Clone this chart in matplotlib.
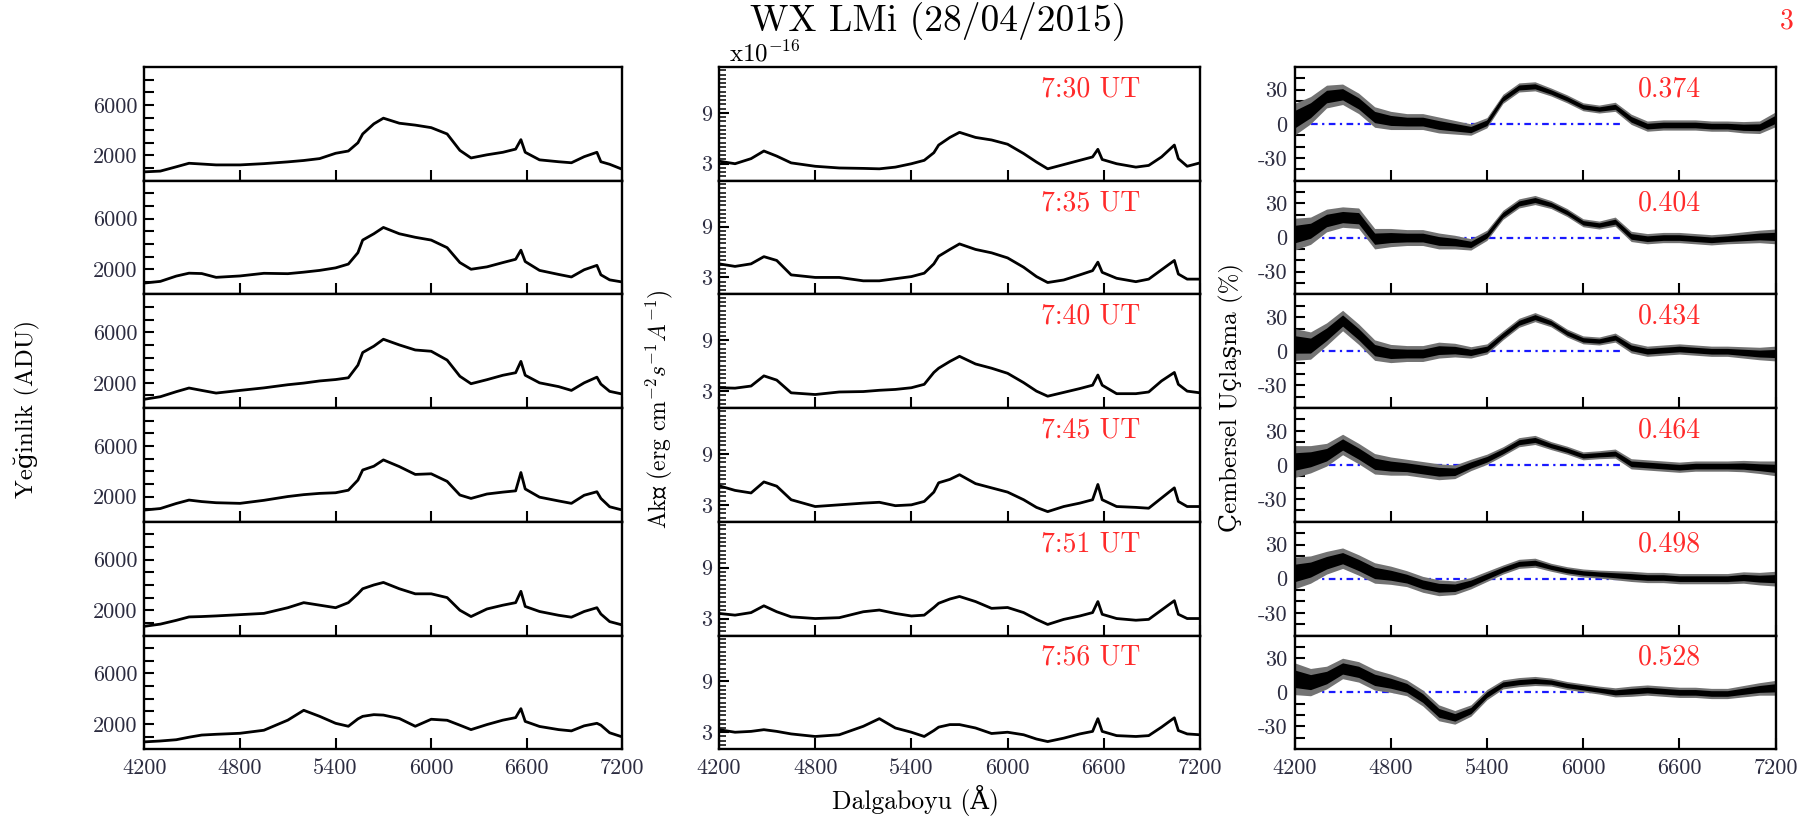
import numpy as np
import matplotlib
matplotlib.use('Agg')
import matplotlib.pyplot as plt
from matplotlib.ticker import FixedLocator, MultipleLocator

plt.rcParams['font.family'] = ['cmr10', 'DejaVu Serif']
plt.rcParams['mathtext.fontset'] = 'cm'
plt.rcParams['axes.unicode_minus'] = False

# ---------------- data ----------------
times = ['7:30 UT', '7:35 UT', '7:40 UT', '7:45 UT', '7:51 UT', '7:56 UT']
phases = ['0.374', '0.404', '0.434', '0.464', '0.498', '0.528']

# wavelength grid for intensity / flux spectra
wl = [4200, 4300, 4400, 4480, 4560, 4650, 4800, 4950, 5100, 5200, 5300, 5400,
      5480, 5540, 5570, 5640, 5700, 5800, 5900, 6000, 6100, 6180, 6250, 6350,
      6450, 6530, 6563, 6590, 6680, 6800, 6880, 6960, 7040, 7065, 7120, 7200]

# intensity (ADU)
adu_730 = [700, 760, 1100, 1380, 1320, 1250, 1250, 1350, 1490, 1600, 1750, 2170,
           2350, 3000, 3700, 4500, 4950, 4550, 4400, 4200, 3700, 2400, 1800, 2050,
           2250, 2500, 3250, 2250, 1650, 1500, 1420, 1900, 2250, 1500, 1300, 900]
adu_735 = [900, 1030, 1450, 1680, 1650, 1350, 1460, 1670, 1640, 1760, 1900, 2100,
           2400, 3300, 4300, 4800, 5300, 4800, 4520, 4300, 3700, 2520, 1990, 2180,
           2520, 2780, 3500, 2600, 1900, 1580, 1380, 1950, 2300, 1550, 1150, 980]
adu_740 = [700, 900, 1300, 1590, 1400, 1190, 1400, 1600, 1850, 1980, 2150, 2260,
           2400, 3400, 4400, 4900, 5450, 5000, 4600, 4500, 3800, 2520, 1930, 2250,
           2600, 2800, 3700, 2600, 2000, 1700, 1400, 2000, 2450, 1900, 1325, 1110]
adu_745 = [930, 1050, 1450, 1720, 1600, 1510, 1460, 1700, 2000, 2150, 2250, 2300,
           2500, 3300, 4100, 4400, 4900, 4370, 3750, 3800, 3200, 2120, 1850, 2200,
           2350, 2450, 3900, 2600, 1950, 1650, 1460, 2100, 2380, 1850, 1190, 930]
adu_751 = [730, 900, 1200, 1470, 1500, 1550, 1650, 1750, 2200, 2600, 2400, 2200,
           2600, 3300, 3700, 4000, 4200, 3700, 3300, 3300, 3000, 2000, 1500, 2100,
           2400, 2600, 3500, 2300, 1900, 1600, 1450, 1900, 2200, 1700, 1100, 830]
adu_756 = [580, 650, 750, 950, 1120, 1180, 1260, 1500, 2300, 3080, 2600, 2050,
           1815, 2400, 2600, 2735, 2700, 2430, 1815, 2370, 2290, 1900, 1550, 1950,
           2300, 2500, 3210, 2200, 1800, 1550, 1450, 1850, 2050, 1900, 1300, 970]

# flux (x1e-16 erg cm^-2 s^-1 A^-1)
flux_730 = [3.3, 3.0, 3.6, 4.5, 3.9, 3.1, 2.7, 2.5, 2.45, 2.4, 2.6, 3.0,
            3.4, 4.3, 5.2, 6.1, 6.7, 6.1, 5.8, 5.3, 4.2, 3.2, 2.4, 2.9,
            3.4, 3.8, 4.7, 3.5, 3.0, 2.6, 2.8, 3.8, 5.2, 3.6, 2.7, 3.1]
flux_735 = [4.6, 4.3, 4.6, 5.45, 5.0, 3.3, 3.0, 3.0, 2.6, 2.6, 2.85, 3.1,
            3.5, 4.6, 5.5, 6.3, 6.95, 6.3, 5.9, 5.3, 4.2, 3.1, 2.4, 2.7,
            3.3, 3.8, 4.8, 3.6, 2.9, 2.5, 2.8, 3.9, 5.0, 3.4, 2.8, 2.8]
flux_740 = [3.4, 3.35, 3.6, 4.8, 4.3, 2.8, 2.6, 2.9, 2.95, 3.1, 3.2, 3.4,
            3.8, 5.2, 5.7, 6.5, 7.1, 6.2, 5.7, 5.1, 4.0, 3.0, 2.4, 2.85,
            3.3, 3.7, 4.9, 3.7, 2.7, 2.7, 2.9, 4.2, 5.2, 3.8, 3.0, 2.8]
flux_745 = [5.25, 4.7, 4.4, 5.7, 5.2, 3.6, 2.8, 3.0, 3.2, 3.3, 2.9, 3.0,
            3.4, 4.5, 5.6, 6.0, 6.55, 5.5, 5.0, 4.5, 3.6, 2.7, 2.2, 2.8,
            3.2, 3.6, 5.4, 3.6, 2.8, 2.7, 2.6, 3.8, 5.0, 3.4, 2.8, 2.8]
flux_751 = [3.6, 3.4, 3.7, 4.5, 3.8, 3.2, 3.0, 3.1, 3.8, 4.0, 3.6, 3.3,
            3.4, 4.3, 4.8, 5.3, 5.6, 5.0, 4.2, 4.3, 3.7, 2.9, 2.3, 2.9,
            3.3, 3.7, 5.0, 3.5, 3.0, 2.8, 2.9, 4.0, 5.1, 3.5, 3.0, 3.0]
flux_756 = [3.3, 3.0, 3.1, 3.3, 3.1, 2.8, 2.5, 2.7, 3.7, 4.6, 3.5, 3.0,
            2.5, 3.2, 3.6, 3.9, 3.9, 3.5, 2.85, 3.0, 2.7, 2.2, 1.9, 2.3,
            2.8, 3.1, 4.6, 3.1, 2.6, 2.5, 2.6, 3.6, 4.7, 3.2, 2.8, 2.7]

# circular polarization (%) on a 100 A grid
wl_pol = list(range(4200, 7201, 100))
pol_0374 = [4, 12, 24, 26, 18, 6, 3, 2, 2, -1, -3, -5, 1, 22, 32, 33, 28, 22, 15, 13,
            15, 4, -2, -1, -1, -1, -2, -2, -3, -3, 4]
pol_0404 = [3, 6, 15, 18, 17, -1, 0, 0, 0, -3, -4, -6, 2, 20, 30, 33, 29, 22, 13, 11,
            14, 1, -1, 0, 0, -1, -2, -1, 0, 1, 1]
pol_0434 = [6, 5, 15, 27, 15, 1, -2, -2, -2, 1, 1, -1, 2, 14, 25, 30, 25, 16, 10, 9,
            12, 3, 0, 1, 2, 1, 0, 0, -1, -2, -2]
pol_0464 = [3, 5, 9, 18, 10, 1, -1, -2, -4, -6, -6, 0, 5, 12, 20, 22, 17, 13, 8, 9,
            10, 1, 0, -1, -2, -1, -1, -1, -1, -2, -3]
pol_0498 = [5, 8, 14, 18, 12, 5, 3, 0, -5, -8, -8, -4, 2, 8, 13, 14, 10, 7, 5, 4,
            3, 2, 1, 1, 0, 0, 0, 0, 1, 0, 0]
pol_0528 = [12, 9, 13, 21, 18, 11, 8, 4, -5, -18, -22, -16, -2, 7, 9, 10, 9, 6, 4, 2,
            0, 1, 2, 1, 0, 0, -1, -1, 1, 3, 4]
# typical scatter (half width, %) of the polarization spectra
pol_scatter = [14, 12, 10, 9, 9, 9, 8, 7, 7, 7, 6, 5, 4.5, 4, 4, 4, 3.5, 3.5, 3.5, 3.5,
               4, 4.5, 4.5, 4.5, 4.5, 4.5, 4.5, 4.5, 5, 5.5, 6.5]
zero_wl = [4300, 6250]
zero_val = [0, 0]

x_ticks = [4200, 4800, 5400, 6000, 6600, 7200]
adu_ticks = [1000, 2000, 3000, 4000, 5000, 6000, 7000, 8000]
adu_labels = ['', '2000', '', '', '', '6000', '', '']
flux_ticks = [3, 9]
pol_ticks = [-40, -30, -20, -10, 0, 10, 20, 30, 40]
pol_labels = ['', '-30', '', '', '0', '', '', '30', '']

adu = [adu_730, adu_735, adu_740, adu_745, adu_751, adu_756]
flux = [flux_730, flux_735, flux_740, flux_745, flux_751, flux_756]
pol = [pol_0374, pol_0404, pol_0434, pol_0464, pol_0498, pol_0528]

# ---------------- figure ----------------
W, H = 1817, 818
fig = plt.figure(figsize=(W / 100, H / 100), dpi=100)

col_left = [144.4, 719.0, 1294.5]
col_width = [478.0, 481.0, 481.0]
top = 67.0
row_h = 113.7
tick_col = '#2c2c40'
red = '#ff2a2a'


def make_ax(c, r):
    x0 = col_left[c] / W
    y0 = 1 - (top + (r + 1) * row_h) / H
    ax = fig.add_axes([x0, y0, col_width[c] / W, row_h / H])
    for s in ax.spines.values():
        s.set_linewidth(1.7)
    ax.set_xlim(4200, 7200)
    ax.set_xticks(x_ticks)
    ax.tick_params(axis='both', direction='in', top=False, right=False,
                   width=1.5, labelsize=16, labelcolor=tick_col)
    ax.tick_params(axis='x', length=8)
    ax.tick_params(axis='y', length=7, pad=5)
    if r < 5:
        ax.set_xticklabels([])
    else:
        ax.set_xticklabels([str(t) for t in x_ticks])
        ax.tick_params(axis='x', pad=7)
    return ax


wl_arr = np.array(wl)
wlp = np.array(wl_pol)
for r in range(6):
    # intensity
    ax = make_ax(0, r)
    ax.plot(wl_arr, adu[r], color='k', lw=2.0)
    ax.set_ylim(0, 9000)
    ax.yaxis.set_major_locator(FixedLocator(adu_ticks))
    ax.set_yticklabels(adu_labels)

    # flux
    ax = make_ax(1, r)
    ax.plot(wl_arr, flux[r], color='k', lw=2.0)
    ax.set_ylim(1.0, 14.4)
    ax.yaxis.set_major_locator(FixedLocator(flux_ticks))
    ax.yaxis.set_minor_locator(MultipleLocator(0.5))
    ax.tick_params(axis='y', which='minor', direction='in', length=5, width=1.1, right=False)
    ax.set_yticklabels([str(t) for t in flux_ticks])
    ax.text(0.772, 0.805, times[r], transform=ax.transAxes, color=red,
            fontsize=20, ha='center', va='center')
    if r == 0:
        ax.text(0.02, 1.005, r'x10$^{-16}$', transform=ax.transAxes,
                fontsize=18, ha='left', va='bottom')

    # polarization
    ax = make_ax(2, r)
    p = np.array(pol[r])
    sc = np.array(pol_scatter)
    ax.plot(zero_wl, zero_val, color='#1a1aff', lw=1.6, dashes=(3, 2, 1, 2), zorder=1)
    ax.fill_between(wlp, p - sc, p + sc, color='0.45', lw=0, zorder=2)
    ax.fill_between(wlp, p - 0.55 * sc, p + 0.55 * sc, color='k', lw=0, zorder=3)
    ax.plot(wlp, p, color='k', lw=1.2, zorder=4)
    ax.set_ylim(-50, 50)
    ax.yaxis.set_major_locator(FixedLocator(pol_ticks))
    ax.set_yticklabels(pol_labels)
    ax.text(0.78, 0.805, phases[r], transform=ax.transAxes, color=red,
            fontsize=20, ha='center', va='center')

fig.text(938 / W, 1 - 21 / H, 'WX LMi (28/04/2015)', fontsize=27, ha='center', va='center')
fig.text(1787 / W, 1 - 21 / H, '3', fontsize=20, color=red, ha='center', va='center')
fig.text(27 / W, 1 - 409 / H, 'Yeğinlik (ADU)', fontsize=18, rotation=90,
         ha='center', va='center')
fig.text(659 / W, 1 - 409 / H, r'Akı (erg cm$^{-2}s^{-1}A^{-1}$)', fontsize=17,
         rotation=90, ha='center', va='center')
fig.text(1231 / W, 1 - 398 / H, 'Çembersel Uçlaşma (%)', fontsize=18, rotation=90,
         ha='center', va='center')
fig.text(915 / W, 1 - 800 / H, 'Dalgaboyu (Å)', fontsize=18.5, ha='center', va='center')

fig.savefig('out.png', dpi=100)
